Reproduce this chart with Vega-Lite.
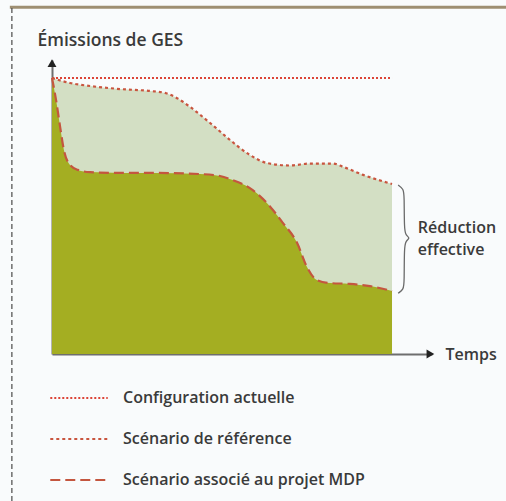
{
  "$schema": "https://vega.github.io/schema/vega-lite/v6.json",
  "width": 380,
  "height": 294,
  "autosize": {"type": "none"},
  "padding": {"left": 52, "top": 60, "right": 74, "bottom": 147},
  "background": "#f9fbfc",
  "config": {
    "view": {"stroke": null},
    "font": "Open Sans",
    "axis": {"ticks": false, "labels": false, "grid": false, "domainColor": "#6e6e6e", "domainWidth": 2, "titleFont": "Open Sans", "titleFontWeight": 600, "titleColor": "#3a3a3a", "titleFontSize": 16}
  },
  "datasets": {
    "one": [{}],
    "curves": [
      {"series": "Configuration actuelle", "t": 0, "e": 100},
      {"series": "Configuration actuelle", "t": 100, "e": 100},
      {"series": "Scénario de référence", "t": 0, "e": 100},
      {"series": "Scénario de référence", "t": 5.3, "e": 98.2},
      {"series": "Scénario de référence", "t": 11.2, "e": 97.1},
      {"series": "Scénario de référence", "t": 20, "e": 96},
      {"series": "Scénario de référence", "t": 28.8, "e": 95.3},
      {"series": "Scénario de référence", "t": 33.2, "e": 94.6},
      {"series": "Scénario de référence", "t": 36.2, "e": 93.1},
      {"series": "Scénario de référence", "t": 40.6, "e": 89.5},
      {"series": "Scénario de référence", "t": 46.5, "e": 83.7},
      {"series": "Scénario de référence", "t": 52.4, "e": 77.5},
      {"series": "Scénario de référence", "t": 58.2, "e": 72.1},
      {"series": "Scénario de référence", "t": 63.2, "e": 69.2},
      {"series": "Scénario de référence", "t": 70, "e": 68.3},
      {"series": "Scénario de référence", "t": 75.9, "e": 69.0},
      {"series": "Scénario de référence", "t": 82.6, "e": 69.0},
      {"series": "Scénario de référence", "t": 85.6, "e": 67.8},
      {"series": "Scénario de référence", "t": 91.5, "e": 64.9},
      {"series": "Scénario de référence", "t": 100, "e": 61.6},
      {"series": "Scénario associé au projet MDP", "t": 0, "e": 100},
      {"series": "Scénario associé au projet MDP", "t": 1.2, "e": 92},
      {"series": "Scénario associé au projet MDP", "t": 2.4, "e": 82.2},
      {"series": "Scénario associé au projet MDP", "t": 3.5, "e": 73.9},
      {"series": "Scénario associé au projet MDP", "t": 5.3, "e": 68.5},
      {"series": "Scénario associé au projet MDP", "t": 7.6, "e": 66.7},
      {"series": "Scénario associé au projet MDP", "t": 11.2, "e": 65.9},
      {"series": "Scénario associé au projet MDP", "t": 20, "e": 65.6},
      {"series": "Scénario associé au projet MDP", "t": 29.7, "e": 65.6},
      {"series": "Scénario associé au projet MDP", "t": 43.5, "e": 65.2},
      {"series": "Scénario associé au projet MDP", "t": 49.4, "e": 64.5},
      {"series": "Scénario associé au projet MDP", "t": 53.2, "e": 63},
      {"series": "Scénario associé au projet MDP", "t": 58.2, "e": 60.1},
      {"series": "Scénario associé au projet MDP", "t": 63.2, "e": 54.7},
      {"series": "Scénario associé au projet MDP", "t": 67.9, "e": 47.5},
      {"series": "Scénario associé au projet MDP", "t": 72.1, "e": 40.2},
      {"series": "Scénario associé au projet MDP", "t": 75, "e": 31.5},
      {"series": "Scénario associé au projet MDP", "t": 77.9, "e": 26.8},
      {"series": "Scénario associé au projet MDP", "t": 81.8, "e": 25.7},
      {"series": "Scénario associé au projet MDP", "t": 87.6, "e": 25.4},
      {"series": "Scénario associé au projet MDP", "t": 93.5, "e": 24.6},
      {"series": "Scénario associé au projet MDP", "t": 100, "e": 22.8}
    ],
    "brace": [
      {"i": 0, "t": 101.8, "e": 61.2},
      {"i": 1, "t": 103.4, "e": 59.8},
      {"i": 2, "t": 103.6, "e": 57.2},
      {"i": 3, "t": 103.6, "e": 45.5},
      {"i": 4, "t": 104.0, "e": 43.0},
      {"i": 5, "t": 105.4, "e": 42.0},
      {"i": 6, "t": 104.0, "e": 41.0},
      {"i": 7, "t": 103.6, "e": 38.5},
      {"i": 8, "t": 103.6, "e": 26.0},
      {"i": 9, "t": 103.4, "e": 23.4},
      {"i": 10, "t": 101.8, "e": 22.0}
    ]
  },
  "layer": [
    {
      "data": {"name": "one"},
      "mark": {"type": "rule", "color": "#9e8f72", "strokeWidth": 3},
      "encoding": {
        "x": {"datum": -12.4, "type": "quantitative"},
        "x2": {"datum": 133.6},
        "y": {"datum": 125.6, "type": "quantitative"}
      }
    },
    {
      "data": {"name": "one"},
      "mark": {"type": "rule", "color": "#4a4a4a", "strokeWidth": 1.2, "strokeDash": [5, 3]},
      "encoding": {
        "x": {"datum": -11.8, "type": "quantitative"},
        "y": {"datum": 125.4, "type": "quantitative"},
        "y2": {"datum": -53.3}
      }
    },
    {
      "data": {"name": "curves"},
      "transform": [{"filter": "datum.series === 'Scénario de référence'"}],
      "mark": {"type": "area", "color": "#d3dfc4", "interpolate": "monotone"},
      "encoding": {
        "x": {"field": "t", "type": "quantitative", "scale": {"domain": [0, 111.76], "nice": false, "zero": false},
              "axis": {"title": "Temps", "titleAlign": "left", "titleBaseline": "middle", "titleX": 393, "titleY": 0, "titleAnchor": null}},
        "y": {"field": "e", "type": "quantitative", "scale": {"domain": [0, 106.52], "nice": false, "zero": false},
              "axis": {"title": "Émissions de GES", "titleFontSize": 17.5, "titleAngle": 0, "titleAlign": "left", "titleBaseline": "alphabetic", "titleX": -15, "titleY": -15, "titleAnchor": null}}
      }
    },
    {
      "data": {"name": "curves"},
      "transform": [{"filter": "datum.series === 'Scénario associé au projet MDP'"}],
      "mark": {"type": "area", "color": "#a4ae22", "interpolate": "monotone"},
      "encoding": {
        "x": {"field": "t", "type": "quantitative"},
        "y": {"field": "e", "type": "quantitative"}
      }
    },
    {
      "data": {"name": "curves"},
      "mark": {"type": "line", "strokeWidth": 2.2, "interpolate": "monotone"},
      "encoding": {
        "x": {"field": "t", "type": "quantitative"},
        "y": {"field": "e", "type": "quantitative"},
        "color": {"field": "series", "type": "nominal",
                  "scale": {"domain": ["Configuration actuelle", "Scénario de référence", "Scénario associé au projet MDP"], "range": ["#dc4437", "#c9553f", "#c4563f"]},
                  "legend": {"orient": "none", "legendX": -3, "legendY": 308, "title": null, "symbolType": "stroke", "symbolSize": 3300, "symbolStrokeWidth": 2, "labelFont": "Open Sans", "labelFontWeight": 600, "labelFontSize": 16, "labelColor": "#3a3a3a", "labelOffset": 14, "labelLimit": 400, "rowPadding": 3}},
        "strokeDash": {"field": "series", "type": "nominal",
                  "scale": {"domain": ["Configuration actuelle", "Scénario de référence", "Scénario associé au projet MDP"], "range": [[2, 2], [3, 3], [10, 5]]},
                  "legend": {"orient": "none", "legendX": -3, "legendY": 308, "title": null, "symbolType": "stroke", "symbolSize": 3300, "symbolStrokeWidth": 2, "labelFont": "Open Sans", "labelFontWeight": 600, "labelFontSize": 16, "labelColor": "#3a3a3a", "labelOffset": 14, "labelLimit": 400, "rowPadding": 3}}
      }
    },
    {
      "data": {"name": "one"},
      "mark": {"type": "point", "shape": "triangle-up", "filled": true, "color": "#222222", "size": 80, "opacity": 1},
      "encoding": {
        "x": {"datum": 0, "type": "quantitative"},
        "y": {"datum": 105.4, "type": "quantitative"}
      }
    },
    {
      "data": {"name": "one"},
      "mark": {"type": "point", "shape": "triangle-right", "filled": true, "color": "#222222", "size": 80, "opacity": 1},
      "encoding": {
        "x": {"datum": 111.3, "type": "quantitative"},
        "y": {"datum": 0, "type": "quantitative"}
      }
    },
    {
      "data": {"name": "brace"},
      "mark": {"type": "line", "color": "#6a6a6a", "strokeWidth": 1.3, "interpolate": "basis"},
      "encoding": {
        "x": {"field": "t", "type": "quantitative"},
        "y": {"field": "e", "type": "quantitative"},
        "order": {"field": "i", "type": "quantitative"}
      }
    },
    {
      "data": {"name": "one"},
      "mark": {"type": "text", "text": ["Réduction", "effective"], "align": "left", "baseline": "middle", "font": "Open Sans", "fontWeight": 600, "fontSize": 16, "color": "#3a3a3a", "lineHeight": 22},
      "encoding": {
        "x": {"datum": 107.6, "type": "quantitative"},
        "y": {"datum": 45.7, "type": "quantitative"}
      }
    }
  ]
}
